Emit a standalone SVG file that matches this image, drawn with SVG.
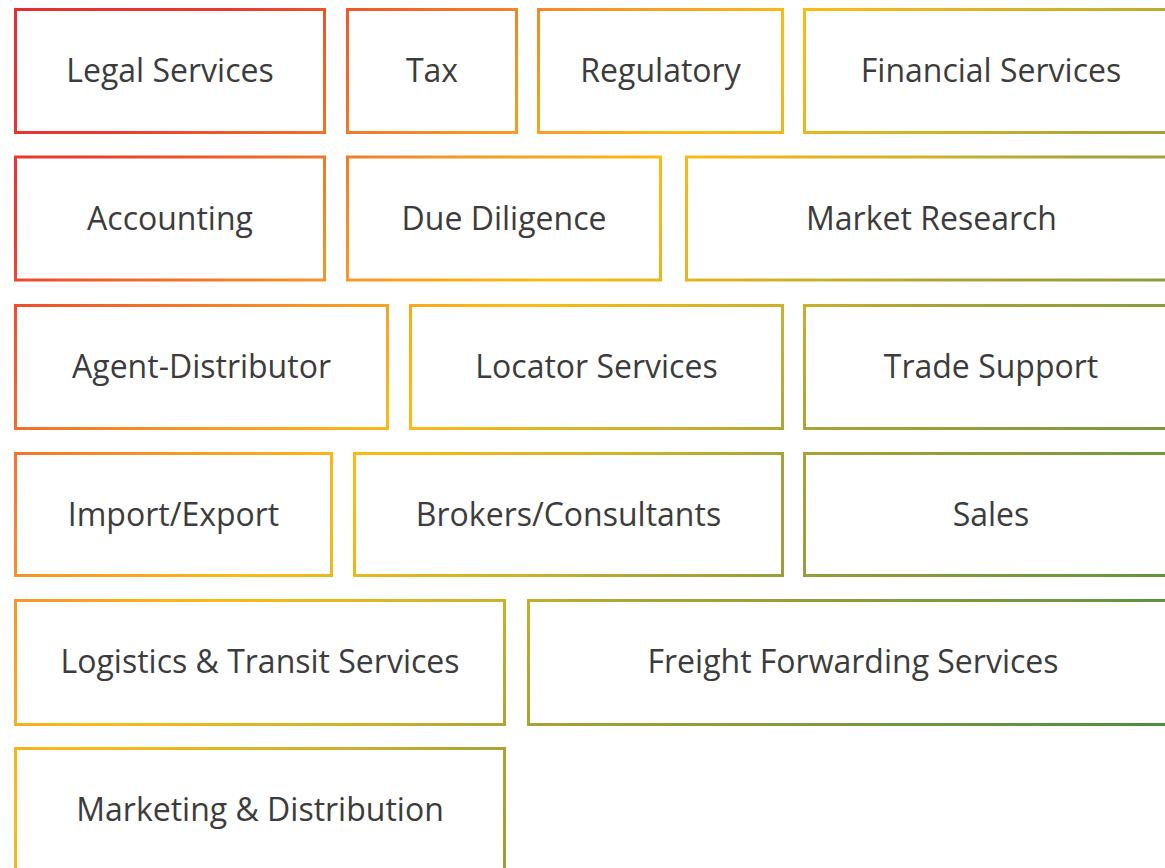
<svg xmlns="http://www.w3.org/2000/svg" width="1165" height="868" viewBox="0 0 1165 868">
<defs>
<linearGradient id="g" gradientUnits="userSpaceOnUse" x1="0" y1="0" x2="1000" y2="1000">
<stop offset="0" stop-color="#e52d2f"/>
<stop offset="0.12" stop-color="#ea3a2d"/>
<stop offset="0.18" stop-color="#f0582a"/>
<stop offset="0.24" stop-color="#f2782a"/>
<stop offset="0.31" stop-color="#f59826"/>
<stop offset="0.41" stop-color="#fbbb16"/>
<stop offset="0.55" stop-color="#cbb12c"/>
<stop offset="0.62" stop-color="#aaa337"/>
<stop offset="0.84" stop-color="#6c963e"/>
<stop offset="0.95" stop-color="#4c8b3f"/>
<stop offset="1" stop-color="#4a8a3f"/>
</linearGradient>
</defs>
<style>
rect.b{fill:#ffffff;stroke:url(#g);stroke-width:3}
text{font-family:"Open Sans","Noto Sans","Liberation Sans",sans-serif;font-size:32px;fill:#3c3c3c;text-anchor:middle}
</style>
<rect width="1165" height="868" fill="#ffffff"/>
<g id="connectors"></g>
<g id="legal-services"><rect class="b" x="15.5" y="9.5" width="309" height="123"/><text x="170" y="82">Legal Services</text></g>
<g id="tax"><rect class="b" x="347.5" y="9.5" width="169" height="123"/><text x="432" y="82">Tax</text></g>
<g id="regulatory"><rect class="b" x="538.5" y="9.5" width="244" height="123"/><text x="660.5" y="82">Regulatory</text></g>
<g id="financial-services"><rect class="b" x="804.5" y="9.5" width="374" height="123"/><text x="991" y="82">Financial Services</text></g>

<g id="accounting"><rect class="b" x="15.5" y="157" width="309" height="123"/><text x="170" y="229.5">Accounting</text></g>
<g id="due-diligence"><rect class="b" x="347.5" y="157" width="313" height="123"/><text x="504" y="229.5">Due Diligence</text></g>
<g id="market-research"><rect class="b" x="686.5" y="157" width="490" height="123"/><text x="931.5" y="229.5">Market Research</text></g>

<g id="agent-distributor"><rect class="b" x="15.5" y="305.5" width="372" height="123"/><text x="201.5" y="378">Agent-Distributor</text></g>
<g id="locator-services"><rect class="b" x="410.5" y="305.5" width="372" height="123"/><text x="596.5" y="378">Locator Services</text></g>
<g id="trade-support"><rect class="b" x="804.5" y="305.5" width="374" height="123"/><text x="991" y="378">Trade Support</text></g>

<g id="import-export"><rect class="b" x="15.5" y="453.5" width="316" height="122"/><text x="173.5" y="525.5">Import/Export</text></g>
<g id="brokers-consultants"><rect class="b" x="354.5" y="453.5" width="428" height="122"/><text x="568.5" y="525.5">Brokers/Consultants</text></g>
<g id="sales"><rect class="b" x="804.5" y="453.5" width="374" height="122"/><text x="991" y="525.5">Sales</text></g>

<g id="logistics-transit-services"><rect class="b" x="15.5" y="600.5" width="489" height="124"/><text x="260" y="673">Logistics &amp; Transit Services</text></g>
<g id="freight-forwarding-services"><rect class="b" x="528.5" y="600.5" width="649" height="124"/><text x="853" y="673">Freight Forwarding Services</text></g>

<g id="marketing-distribution"><rect class="b" x="15.5" y="748.5" width="489" height="124"/><text x="260" y="821">Marketing &amp; Distribution</text></g>
</svg>
